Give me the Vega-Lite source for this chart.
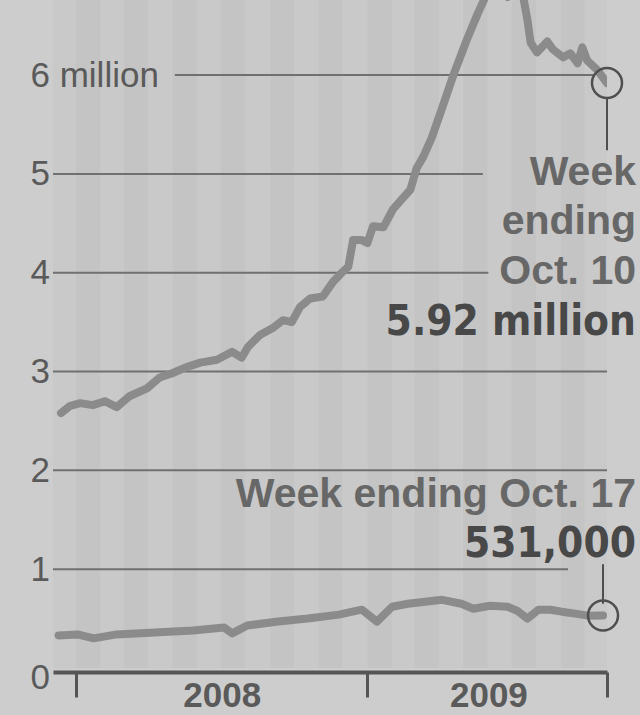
{
  "$schema": "https://vega.github.io/schema/vega-lite/v6.json",
  "width": 554,
  "height": 668,
  "autosize": {"type": "none"},
  "padding": {"left": 53, "top": 0, "right": 33, "bottom": 47},
  "background": "#cdcdcd",
  "config": {
    "view": {"stroke": null},
    "font": "Liberation Sans",
    "axis": {"grid": false}
  },
  "datasets": {
    "months": [
      {"start": "2007-12-01", "end": "2008-01-01", "shade": "b"},
      {"start": "2008-01-01", "end": "2008-02-01", "shade": "a"},
      {"start": "2008-02-01", "end": "2008-03-01", "shade": "b"},
      {"start": "2008-03-01", "end": "2008-04-01", "shade": "a"},
      {"start": "2008-04-01", "end": "2008-05-01", "shade": "b"},
      {"start": "2008-05-01", "end": "2008-06-01", "shade": "a"},
      {"start": "2008-06-01", "end": "2008-07-01", "shade": "b"},
      {"start": "2008-07-01", "end": "2008-08-01", "shade": "a"},
      {"start": "2008-08-01", "end": "2008-09-01", "shade": "b"},
      {"start": "2008-09-01", "end": "2008-10-01", "shade": "a"},
      {"start": "2008-10-01", "end": "2008-11-01", "shade": "b"},
      {"start": "2008-11-01", "end": "2008-12-01", "shade": "a"},
      {"start": "2008-12-01", "end": "2009-01-01", "shade": "b"},
      {"start": "2009-01-01", "end": "2009-02-01", "shade": "a"},
      {"start": "2009-02-01", "end": "2009-03-01", "shade": "b"},
      {"start": "2009-03-01", "end": "2009-04-01", "shade": "a"},
      {"start": "2009-04-01", "end": "2009-05-01", "shade": "b"},
      {"start": "2009-05-01", "end": "2009-06-01", "shade": "a"},
      {"start": "2009-06-01", "end": "2009-07-01", "shade": "b"},
      {"start": "2009-07-01", "end": "2009-08-01", "shade": "a"},
      {"start": "2009-08-01", "end": "2009-09-01", "shade": "b"},
      {"start": "2009-09-01", "end": "2009-10-01", "shade": "a"},
      {"start": "2009-10-01", "end": "2009-11-01", "shade": "b"}
    ],
    "grid": [
      {"v": 6, "from": "2008-05-04", "to": "2009-10-12"},
      {"v": 5, "from": "2007-12-03", "to": "2009-05-26"},
      {"v": 4, "from": "2007-12-03", "to": "2009-06-02"},
      {"v": 3, "from": "2007-12-03", "to": "2009-10-29"},
      {"v": 2, "from": "2007-12-03", "to": "2009-10-29"},
      {"v": 1, "from": "2007-12-03", "to": "2009-09-10"}
    ],
    "claims": [
      {"series": "continuing", "date": "2007-12-13", "value": 2.58},
      {"series": "continuing", "date": "2007-12-24", "value": 2.65},
      {"series": "continuing", "date": "2008-01-06", "value": 2.68},
      {"series": "continuing", "date": "2008-01-22", "value": 2.66},
      {"series": "continuing", "date": "2008-02-06", "value": 2.70},
      {"series": "continuing", "date": "2008-02-21", "value": 2.64},
      {"series": "continuing", "date": "2008-03-08", "value": 2.75},
      {"series": "continuing", "date": "2008-03-30", "value": 2.83},
      {"series": "continuing", "date": "2008-04-15", "value": 2.94},
      {"series": "continuing", "date": "2008-04-30", "value": 2.98},
      {"series": "continuing", "date": "2008-05-17", "value": 3.04},
      {"series": "continuing", "date": "2008-06-05", "value": 3.09},
      {"series": "continuing", "date": "2008-06-26", "value": 3.12},
      {"series": "continuing", "date": "2008-07-15", "value": 3.20},
      {"series": "continuing", "date": "2008-07-27", "value": 3.14},
      {"series": "continuing", "date": "2008-08-04", "value": 3.25},
      {"series": "continuing", "date": "2008-08-19", "value": 3.37},
      {"series": "continuing", "date": "2008-09-04", "value": 3.44},
      {"series": "continuing", "date": "2008-09-17", "value": 3.52},
      {"series": "continuing", "date": "2008-09-28", "value": 3.50},
      {"series": "continuing", "date": "2008-10-08", "value": 3.65},
      {"series": "continuing", "date": "2008-10-21", "value": 3.74},
      {"series": "continuing", "date": "2008-11-06", "value": 3.76},
      {"series": "continuing", "date": "2008-11-19", "value": 3.91},
      {"series": "continuing", "date": "2008-12-01", "value": 4.01},
      {"series": "continuing", "date": "2008-12-08", "value": 4.06},
      {"series": "continuing", "date": "2008-12-14", "value": 4.33},
      {"series": "continuing", "date": "2008-12-25", "value": 4.33},
      {"series": "continuing", "date": "2009-01-01", "value": 4.30},
      {"series": "continuing", "date": "2009-01-08", "value": 4.47},
      {"series": "continuing", "date": "2009-01-21", "value": 4.46},
      {"series": "continuing", "date": "2009-02-02", "value": 4.64},
      {"series": "continuing", "date": "2009-02-15", "value": 4.76},
      {"series": "continuing", "date": "2009-02-24", "value": 4.84},
      {"series": "continuing", "date": "2009-03-04", "value": 5.06},
      {"series": "continuing", "date": "2009-03-12", "value": 5.17},
      {"series": "continuing", "date": "2009-03-23", "value": 5.37},
      {"series": "continuing", "date": "2009-04-02", "value": 5.60},
      {"series": "continuing", "date": "2009-04-19", "value": 6.00},
      {"series": "continuing", "date": "2009-05-06", "value": 6.36},
      {"series": "continuing", "date": "2009-05-20", "value": 6.63},
      {"series": "continuing", "date": "2009-06-01", "value": 6.84},
      {"series": "continuing", "date": "2009-06-13", "value": 6.88},
      {"series": "continuing", "date": "2009-06-26", "value": 6.79},
      {"series": "continuing", "date": "2009-07-06", "value": 6.84},
      {"series": "continuing", "date": "2009-07-16", "value": 6.78},
      {"series": "continuing", "date": "2009-07-21", "value": 6.56},
      {"series": "continuing", "date": "2009-07-25", "value": 6.33},
      {"series": "continuing", "date": "2009-08-02", "value": 6.23},
      {"series": "continuing", "date": "2009-08-15", "value": 6.34},
      {"series": "continuing", "date": "2009-08-22", "value": 6.26},
      {"series": "continuing", "date": "2009-09-04", "value": 6.18},
      {"series": "continuing", "date": "2009-09-13", "value": 6.22},
      {"series": "continuing", "date": "2009-09-22", "value": 6.12},
      {"series": "continuing", "date": "2009-09-28", "value": 6.28},
      {"series": "continuing", "date": "2009-10-04", "value": 6.15},
      {"series": "continuing", "date": "2009-10-17", "value": 6.05},
      {"series": "continuing", "date": "2009-10-29", "value": 5.92},
      {"series": "initial", "date": "2007-12-10", "value": 0.33},
      {"series": "initial", "date": "2008-01-03", "value": 0.34},
      {"series": "initial", "date": "2008-01-23", "value": 0.30},
      {"series": "initial", "date": "2008-02-21", "value": 0.34},
      {"series": "initial", "date": "2008-04-09", "value": 0.36},
      {"series": "initial", "date": "2008-05-27", "value": 0.38},
      {"series": "initial", "date": "2008-07-05", "value": 0.41},
      {"series": "initial", "date": "2008-07-15", "value": 0.35},
      {"series": "initial", "date": "2008-08-03", "value": 0.43},
      {"series": "initial", "date": "2008-09-11", "value": 0.47},
      {"series": "initial", "date": "2008-10-18", "value": 0.50},
      {"series": "initial", "date": "2008-11-26", "value": 0.54},
      {"series": "initial", "date": "2008-12-25", "value": 0.59},
      {"series": "initial", "date": "2009-01-13", "value": 0.47},
      {"series": "initial", "date": "2009-02-01", "value": 0.62},
      {"series": "initial", "date": "2009-02-21", "value": 0.65},
      {"series": "initial", "date": "2009-04-05", "value": 0.69},
      {"series": "initial", "date": "2009-04-29", "value": 0.65},
      {"series": "initial", "date": "2009-05-14", "value": 0.60},
      {"series": "initial", "date": "2009-06-04", "value": 0.63},
      {"series": "initial", "date": "2009-06-26", "value": 0.62},
      {"series": "initial", "date": "2009-07-08", "value": 0.58},
      {"series": "initial", "date": "2009-07-21", "value": 0.50},
      {"series": "initial", "date": "2009-08-04", "value": 0.59},
      {"series": "initial", "date": "2009-08-19", "value": 0.59},
      {"series": "initial", "date": "2009-09-02", "value": 0.57},
      {"series": "initial", "date": "2009-09-19", "value": 0.55},
      {"series": "initial", "date": "2009-10-05", "value": 0.53},
      {"series": "initial", "date": "2009-10-24", "value": 0.531}
    ],
    "ends": [
      {"series": "continuing", "date": "2009-10-29", "value": 5.92},
      {"series": "initial", "date": "2009-10-24", "value": 0.531}
    ],
    "leaders": [
      {"date": "2009-10-29", "from": 5.77, "to": 5.24},
      {"date": "2009-10-24", "from": 0.65, "to": 1.05}
    ],
    "notes": [
      {"text": "Week", "role": "caption", "date": "2009-10-29", "value": 5.01},
      {"text": "ending", "role": "caption", "date": "2009-10-29", "value": 4.51},
      {"text": "Oct. 10", "role": "caption", "date": "2009-10-29", "value": 4.01},
      {"text": "5.92 million", "role": "figure", "date": "2009-10-29", "value": 3.50},
      {"text": "Week ending Oct. 17", "role": "caption", "date": "2009-10-29", "value": 1.75},
      {"text": "531,000", "role": "figure", "date": "2009-10-29", "value": 1.25}
    ]
  },
  "layer": [
    {
      "data": {"name": "months"},
      "mark": {"type": "rect", "clip": true},
      "encoding": {
        "x": {
          "field": "start",
          "type": "temporal",
          "title": null,
          "scale": {
            "domain": [
              {"year": 2007, "month": 12, "date": 3, "utc": true},
              {"year": 2009, "month": 10, "date": 29, "utc": true}
            ]
          },
          "axis": {
            "values": [
              {"year": 2008, "month": 1, "date": 1, "utc": true},
              {"year": 2008, "month": 7, "date": 2, "utc": true},
              {"year": 2009, "month": 1, "date": 1, "utc": true},
              {"year": 2009, "month": 6, "date": 2, "utc": true},
              {"year": 2009, "month": 10, "date": 29, "utc": true}
            ],
            "labelExpr": "(utcmonth(datum.value) == 6 || utcmonth(datum.value) == 5) ? utcFormat(datum.value, '%Y') : ''",
            "tickOpacity": {"condition": {"test": "utcmonth(datum.value) == 6 || utcmonth(datum.value) == 5", "value": 0}, "value": 1},
            "tickSize": 25,
            "tickWidth": 3,
            "tickColor": "#555555",
            "domainColor": "#555555",
            "domainWidth": 4,
            "offset": 4,
            "labelPadding": -19,
            "labelFontSize": 35,
            "labelFontWeight": "bold",
            "labelColor": "#5a5a5a",
            "labelFont": "Liberation Sans",
            "labelOverlap": false,
            "labelFlush": false,
            "labelBound": false,
            "labelAngle": 0,
            "labelAlign": "center",
            "labelBaseline": "top",
            "grid": false,
            "zindex": 1
          }
        },
        "x2": {"field": "end"},
        "color": {
          "field": "shade",
          "type": "nominal",
          "scale": {"domain": ["a", "b"], "range": ["#c4c4c4", "#c9c9c9"]},
          "legend": null
        }
      }
    },
    {
      "data": {"name": "grid"},
      "mark": {"type": "rule", "color": "#707070", "strokeWidth": 2},
      "encoding": {
        "x": {"field": "from", "type": "temporal", "title": null},
        "x2": {"field": "to"},
        "y": {"field": "v", "type": "quantitative", "title": null}
      }
    },
    {
      "data": {"name": "claims"},
      "mark": {"type": "line", "color": "#8b8b8b", "strokeWidth": 8, "strokeCap": "round", "strokeJoin": "round", "clip": true},
      "encoding": {
        "x": {"field": "date", "type": "temporal", "title": null},
        "y": {
          "field": "value",
          "type": "quantitative",
          "title": null,
          "scale": {"domain": [0, 6.76], "nice": false, "zero": true},
          "axis": {
            "values": [0, 1, 2, 3, 4, 5, 6],
            "labelExpr": "datum.value == 6 ? '6 million' : format(datum.value, 'd')",
            "domain": false,
            "ticks": false,
            "tickSize": 0,
            "grid": false,
            "labelAlign": "left",
            "labelBaseline": "middle",
            "labelPadding": 23,
            "labelFontSize": 35,
            "labelColor": "#5a5a5a",
            "labelFont": "Liberation Sans",
            "labelOffset": {"condition": {"test": "datum.value == 0", "value": 9}, "value": 0},
            "labelBound": false,
            "labelOverlap": false,
            "labelFlush": false,
            "zindex": 1
          }
        },
        "detail": {"field": "series", "type": "nominal"}
      }
    },
    {
      "data": {"name": "ends"},
      "mark": {"type": "point", "shape": "circle", "size": 900, "filled": false, "stroke": "#4f4f4f", "strokeWidth": 2.5, "opacity": 1},
      "encoding": {
        "x": {"field": "date", "type": "temporal", "title": null},
        "y": {"field": "value", "type": "quantitative", "title": null}
      }
    },
    {
      "data": {"name": "leaders"},
      "mark": {"type": "rule", "color": "#4f4f4f", "strokeWidth": 2},
      "encoding": {
        "x": {"field": "date", "type": "temporal", "title": null},
        "y": {"field": "from", "type": "quantitative", "title": null},
        "y2": {"field": "to"}
      }
    },
    {
      "data": {"name": "notes"},
      "transform": [{"filter": "datum.role == 'caption'"}],
      "mark": {"type": "text", "align": "right", "baseline": "middle", "dx": 29, "font": "Liberation Sans", "fontWeight": "bold", "fontSize": 41, "color": "#676767"},
      "encoding": {
        "x": {"field": "date", "type": "temporal", "title": null},
        "y": {"field": "value", "type": "quantitative", "title": null},
        "text": {"field": "text"}
      }
    },
    {
      "data": {"name": "notes"},
      "transform": [{"filter": "datum.role == 'figure'"}],
      "mark": {"type": "text", "align": "right", "baseline": "middle", "dx": 29, "font": "'DejaVu Sans Condensed', 'Liberation Sans'", "fontWeight": "bold", "fontSize": 42, "color": "#484848"},
      "encoding": {
        "x": {"field": "date", "type": "temporal", "title": null},
        "y": {"field": "value", "type": "quantitative", "title": null},
        "text": {"field": "text"}
      }
    }
  ]
}
